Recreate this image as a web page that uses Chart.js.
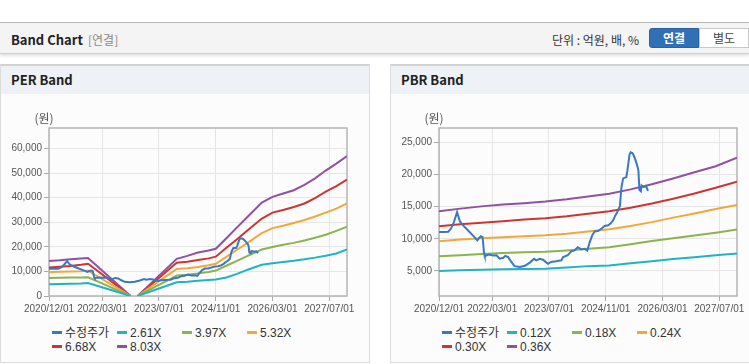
<!DOCTYPE html>
<html>
<head>
<meta charset="utf-8">
<script src="https://cdn.jsdelivr.net/npm/chart.js@4/dist/chart.umd.min.js"></script>
<style>
  body { margin: 0; width: 749px; height: 364px; overflow: hidden; background: #fff; position: relative;
         font-family: "Liberation Sans", "Noto Sans CJK KR", sans-serif; }
  .topbar { position: absolute; left: 0; top: 22px; width: 749px; height: 30px; background: #f4f4f4;
            border-top: 1px solid #b8b8b8; border-bottom: 1px solid #cfcfcf; box-shadow: 0 2px 3px rgba(0,0,0,0.12); }
  .topbar .title { position: absolute; left: 11px; top: 7px; font: bold 13px "Noto Sans CJK KR", sans-serif; color: #222; }
  .topbar .sub { position: absolute; left: 88px; top: 8px; font: 12px "Noto Sans CJK KR", sans-serif; color: #8a8a8a; }
  .topbar .unit { position: absolute; left: 552px; top: 8px; font: 12px "Noto Sans CJK KR", sans-serif; color: #333; }
  .btn { position: absolute; top: 5px; height: 20px; width: 50px; text-align: center; line-height: 20px;
         font: bold 12px "Noto Sans CJK KR", sans-serif; box-sizing: border-box; }
  .btn.on { left: 649px; background: #3070b6; color: #fff; border: 1px solid #2a62a2; border-radius: 3px 0 0 3px; }
  .btn.off { left: 699px; background: #fff; color: #444; border: 1px solid #c8c8c8; font-weight: normal; }
  .panel { position: absolute; top: 64px; height: 296px; width: 368px; background: #fcfcfc;
           border: 1px solid #dcdcdc; border-top: 2px solid #d2d2d2; }
  .panel .head { height: 28px; background: #eef1f6; font: bold 13px "Noto Sans CJK KR", sans-serif; color: #222;
                 line-height: 28px; padding-left: 10px; }
  canvas { position: absolute; }
  .legend { position: absolute; width: 270px; font: 12px "Liberation Sans", sans-serif; color: #333; }
  .legend span.item { display: inline-block; width: 65px; height: 14px; line-height: 14px; white-space: nowrap; }
  .legend i { display: inline-block; width: 10px; height: 3px; vertical-align: middle; margin-right: 3px; margin-top: -2px; }
  .legend .kr { font: 12px "Noto Sans CJK KR", sans-serif; }
</style>
</head>
<body>
<div class="topbar">
  <span class="title">Band Chart</span><span class="sub">[연결]</span>
  <span class="unit">단위 : 억원, 배, %</span>
  <div class="btn on">연결</div><div class="btn off">별도</div>
</div>
<div class="panel" style="left:0"><div class="head">PER Band</div></div>
<div class="panel" style="left:390px"><div class="head">PBR Band</div></div>
<canvas id="perChart" width="370" height="220" style="left:0;top:100px"></canvas>
<canvas id="pbrChart" width="370" height="220" style="left:390px;top:100px"></canvas>
<div class="legend" id="perLegend" style="left:52px;top:323px"></div>
<div class="legend" id="pbrLegend" style="left:442px;top:323px"></div>
<script>
// x axis is months since 2020/12
const tickMonths = [0, 15, 31, 47, 63, 79];
const tickLabels = ['2020/12/01', '2022/03/01', '2023/07/01', '2024/11/01', '2026/03/01', '2027/07/01'];

const priceName = '수정주가';
const priceMonths = [0, 1.5, 2.6, 3.4, 4.2, 5.1, 5.9, 6.8, 8.2, 9.6, 10.8, 11.2, 11.8, 12.3, 12.7, 12.9, 13.9, 15.3, 16.2, 17.1,
  18.1, 18.7, 19.5, 20.4, 21.3, 22.8, 24.2, 25.6, 26.8, 27.4, 28.4, 29.3, 30.7, 31.6, 33, 34.5, 35, 36.3, 37.3, 38.2,
  39.1, 40.1, 41, 41.8, 42.5, 43.2, 43.9, 44.8, 45.8, 46.7, 47.7, 48.4, 49.1, 49.7, 50.2, 51, 51.4, 51.9, 52.8, 53.1,
  53.7, 54, 54.6, 55.1, 55.7, 56.2, 56.5, 56.9, 57.1, 57.5, 58, 58.4, 58.9];
const prices = [11050, 11050, 11100, 11600, 12600, 14150, 12700, 12100, 11300, 10500, 9750, 10050, 10400, 10250, 7700, 7300, 7550, 7400, 7450, 6900,
  7050, 7350, 7150, 6400, 5750, 5600, 5800, 6300, 6900, 6650, 6900, 6750, 6100, 6400, 6500, 6650, 7150, 7450, 8050, 8200,
  8700, 8350, 8450, 8200, 9500, 10550, 11150, 11200, 11600, 12000, 12100, 12400, 12900, 13650, 14100, 15100, 17900, 19400, 19600, 20600,
  23100, 23450, 23300, 22700, 21700, 20700, 17600, 17400, 18300, 18100, 18100, 18200, 17450];

// PER bands
const perNames = ['2.61X', '3.97X', '5.32X', '6.68X', '8.03X'];
const perMonths = [0, 3, 6, 9, 11, 14, 17, 20, 23, 24, 25, 28, 31, 34, 36, 39, 42, 45, 47, 50, 53, 56, 60, 63, 66, 69, 72, 75, 78, 81, 84];
const per261 = [4800, 4900, 5000, 5100, 5300, 3980, 2650, 1330, 0, null, 0, 1530, 3050, 4580, 5600, 5800, 6200, 6500, 6700, 7500, 9000, 10700, 12700, 13350, 13800, 14300, 14900, 15600, 16400, 17300, 18900];
const per397 = [7350, 7450, 7500, 7550, 7630, 5720, 3820, 1910, 0, null, 0, 2260, 4530, 6790, 8300, 8600, 9200, 9800, 10350, 12300, 14300, 16300, 18900, 19900, 20800, 21600, 22600, 23700, 24900, 26500, 28200];
const per532 = [9700, 9900, 10000, 10100, 10300, 7720, 5150, 2580, 0, null, 0, 3000, 6000, 9000, 11000, 11300, 11800, 12500, 13100, 15900, 18800, 21600, 25600, 27600, 28600, 29700, 30900, 32300, 33900, 35500, 37700];
const per668 = [11600, 11900, 12200, 12700, 13100, 9830, 6550, 3280, 0, null, 0, 3680, 7360, 11050, 13500, 13900, 14600, 15300, 16000, 19600, 23100, 26700, 31500, 33900, 35000, 36200, 37600, 39800, 42400, 44700, 47300];
const per803 = [14200, 14500, 14900, 15200, 15400, 11550, 7700, 3850, 0, null, 0, 4100, 8200, 12300, 15100, 16300, 17700, 18500, 19200, 23500, 27900, 32200, 38000, 40300, 41700, 43000, 45200, 47800, 51000, 53800, 56900];
const perTicks = [0, 10000, 20000, 30000, 40000, 50000, 60000];

// PBR bands
const pbrNames = ['0.12X', '0.18X', '0.24X', '0.30X', '0.36X'];
const pbrMonths = [0, 6, 12, 18, 24, 30, 36, 42, 48, 54, 60, 66, 72, 78, 84];
const pbr012 = [4980, 5100, 5200, 5280, 5320, 5360, 5550, 5750, 5850, 6200, 6500, 6850, 7150, 7450, 7720];
const pbr018 = [7280, 7450, 7650, 7800, 7900, 7980, 8200, 8450, 8700, 9150, 9650, 10100, 10500, 10950, 11450];
const pbr024 = [9620, 9900, 10100, 10250, 10400, 10550, 10800, 11150, 11500, 12000, 12600, 13300, 13950, 14650, 15250];
const pbr030 = [11950, 12250, 12500, 12750, 13000, 13200, 13500, 13900, 14300, 14850, 15500, 16250, 17050, 17950, 18900];
const pbr036 = [14300, 14700, 15050, 15350, 15550, 15800, 16150, 16600, 17000, 17700, 18500, 19400, 20350, 21300, 22650];
const pbrTicks = [5000, 10000, 15000, 20000, 25000];

const colors = ['#3b78c2', '#1fb3c4', '#8cb34c', '#f2a73a', '#cf3434', '#9150a0'];
const tickFont = { family: '"Liberation Sans", sans-serif', size: 10 };

function xy(xs, ys) {
  return xs.map((x, i) => ({ x: x, y: ys[i] }));
}

const frame = {
  id: 'frame',
  beforeDatasetsDraw(chart) {
    const a = chart.chartArea, ctx = chart.ctx;
    ctx.save();
    ctx.strokeStyle = '#b4b4b4';
    ctx.lineWidth = 1.5;
    ctx.strokeRect(a.left, a.top, a.right - a.left, a.bottom - a.top);
    ctx.restore();
  },
  afterDraw(chart) {
    const ctx = chart.ctx;
    ctx.save();
    ctx.fillStyle = '#555';
    ctx.font = '12px "Noto Sans CJK KR", sans-serif';
    ctx.textAlign = 'center';
    ctx.textBaseline = 'middle';
    ctx.fillText('(원)', chart.chartArea.left - 5, chart.chartArea.top - 10);
    ctx.restore();
  }
};

function makeChart(id, legendId, months, bands, names, yMin, yMax, yTicks) {
  const datasets = [{ label: priceName, data: xy(priceMonths, prices), borderColor: colors[0] }];
  bands.forEach((b, i) => datasets.push({ label: names[i], data: xy(months, b), borderColor: colors[i + 1] }));

  new Chart(document.getElementById(id), {
    type: 'line',
    data: { datasets: datasets },
    plugins: [frame],
    options: {
      responsive: false,
      animation: false,
      layout: { padding: { top: 28, right: 23, left: 0, bottom: 0 } },
      plugins: { legend: { display: false }, tooltip: { enabled: false } },
      elements: { point: { radius: 0 }, line: { borderWidth: 2, tension: 0 } },
      scales: {
        x: {
          type: 'linear', min: 0, max: 84,
          afterBuildTicks: s => { s.ticks = tickMonths.map(v => ({ value: v })); },
          afterFit: s => { s.height = 24; },
          border: { display: false },
          grid: { color: '#e6e6e6', tickLength: 5, tickColor: '#aaa' },
          ticks: { callback: v => tickLabels[tickMonths.indexOf(v)], maxRotation: 0, autoSkip: false, padding: 2,
                   color: '#555', font: tickFont }
        },
        y: {
          min: yMin, max: yMax,
          afterBuildTicks: s => { s.ticks = yTicks.map(v => ({ value: v })); },
          afterFit: s => { s.width = 49; },
          border: { display: false },
          grid: { color: '#e6e6e6', tickLength: 5, tickColor: '#aaa' },
          ticks: { callback: v => v.toLocaleString('en-US'), padding: 2, color: '#555', font: tickFont }
        }
      }
    }
  });

  // html legend, 4 items per row
  const box = document.getElementById(legendId);
  datasets.forEach((d, i) => {
    const it = document.createElement('span');
    it.className = 'item';
    it.innerHTML = '<i style="background:' + d.borderColor + '"></i>' +
      (i === 0 ? '<span class="kr">' + d.label + '</span>' : d.label);
    box.appendChild(it);
  });
}

makeChart('perChart', 'perLegend', perMonths, [per261, per397, per532, per668, per803], perNames, 0, 68300, perTicks);
makeChart('pbrChart', 'pbrLegend', pbrMonths, [pbr012, pbr018, pbr024, pbr030, pbr036], pbrNames, 1100, 27250, pbrTicks);
</script>
</body>
</html>
